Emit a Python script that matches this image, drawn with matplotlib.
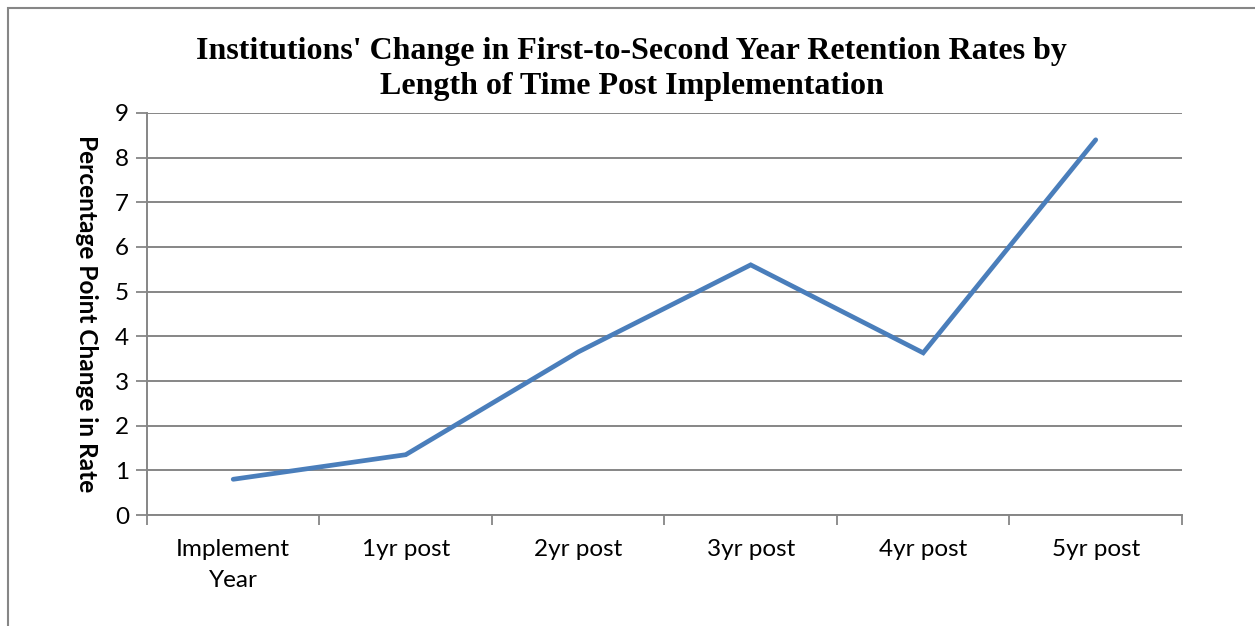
import matplotlib.pyplot as plt
import matplotlib.patches as mpatches
import numpy as np

# Data
periods = ['Implement\nYear', '1yr post', '2yr post', '3yr post', '4yr post', '5yr post']
change = [0.8, 1.35, 3.65, 5.6, 3.63, 8.4]
y_ticks = [0, 1, 2, 3, 4, 5, 6, 7, 8, 9]

grey = '#868686'

fig = plt.figure(figsize=(12.55, 6.26), dpi=100)
ax = fig.add_axes([0.1171, 0.1773, 0.8247, 0.6422])

x = np.arange(len(periods))
ax.plot(x, change, color='#4A7EBB', linewidth=3.4, solid_capstyle='round', solid_joinstyle='miter', zorder=3)

ax.set_xlim(-0.5, len(periods) - 0.5)
ax.set_ylim(0, 9)
ax.set_yticks(y_ticks)
ax.set_xticks(x)
ax.set_xticklabels(periods, family='Lato', fontsize=17.5, linespacing=1.6)
ax.set_xticks(np.arange(-0.5, len(periods)), minor=True)
ax.tick_params(axis='x', which='major', length=0, pad=17)
ax.tick_params(axis='x', which='minor', length=7, width=1.3, color=grey, direction='out')
ax.tick_params(axis='y', length=8, width=1.3, color=grey, direction='out', pad=5, labelsize=17.5)
for lab in ax.get_yticklabels():
    lab.set_family('Lato')

ax.grid(axis='y', color=grey, linewidth=1.4)
ax.set_axisbelow(True)
for side in ['top', 'right']:
    ax.spines[side].set_visible(False)
ax.spines['left'].set_color(grey)
ax.spines['left'].set_linewidth(1.4)
ax.spines['bottom'].set_color(grey)
ax.spines['bottom'].set_linewidth(1.4)

ax.set_ylabel('Percentage Point Change in Rate', family='Lato', fontweight='bold',
              fontsize=17.6, rotation=270, va='center')
ax.yaxis.set_label_coords(-0.058, 0.5)

fig.text(0.5035, 0.8895, "Institutions' Change in First-to-Second Year Retention Rates by\nLength of Time Post Implementation",
         ha='center', va='center', family='Liberation Serif', fontweight='bold', fontsize=23,
         linespacing=1.26)

# outer chart frame
fig.patches.append(mpatches.Rectangle((8 / 1255, -0.1), 1.2, 1.1 - 7.5 / 626, transform=fig.transFigure,
                                      fill=False, edgecolor=grey, linewidth=1.5))

fig.savefig('out.png', dpi=100)
